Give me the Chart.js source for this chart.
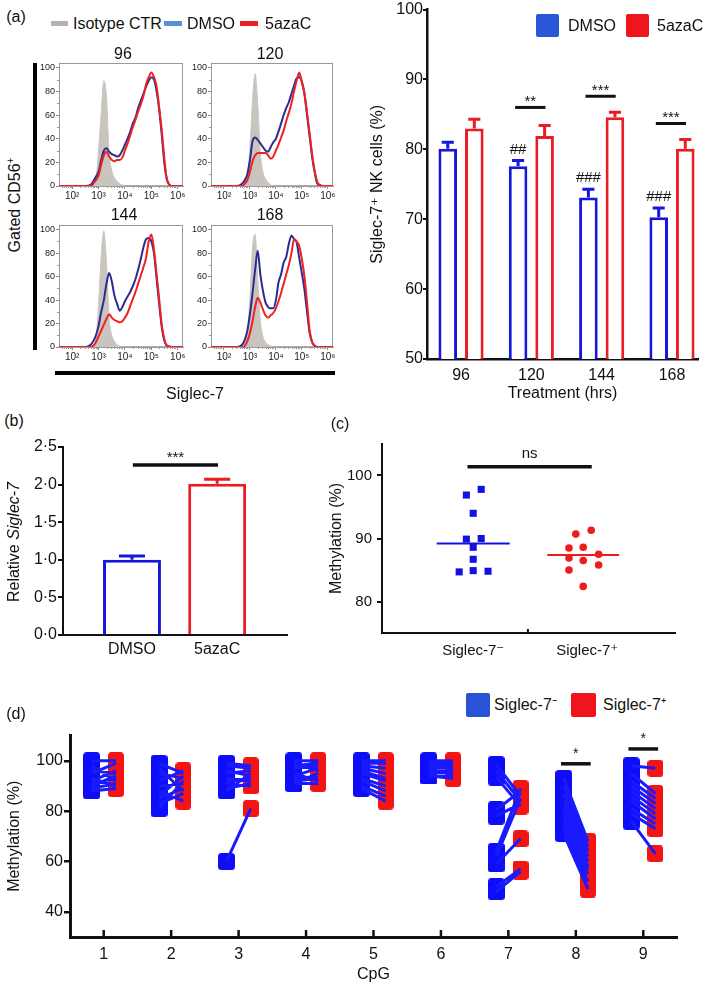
<!DOCTYPE html>
<html><head><meta charset="utf-8">
<script src="https://cdn.jsdelivr.net/npm/chart.js"></script>
<style>
html,body{margin:0;padding:0;background:#fff;}
#root{position:relative;width:709px;height:984px;overflow:hidden;font-family:'Liberation Sans',Arial,Helvetica,sans-serif;color:#111;}
canvas{position:absolute;}
.t{position:absolute;white-space:nowrap;line-height:1;}
</style></head><body><div id="root"></div>
<script>
// ---------------- DATA ----------------
// (a) flow histograms (x = log10 fluorescence)
const histLog=[1.5,2.5,2.7,2.8,2.9,3.0,3.1,3.2,3.3,3.4,3.5,3.6,3.7,3.8,3.9,4.0,4.1,4.2,4.3,4.4,4.5,4.6,4.7,4.8,4.9,5.0,5.1,5.2,5.3,5.4,5.5,5.6,5.8,6.2];
const histTickVals=[2,3,4,5,6];
const histTickLabels=['10²','10³','10⁴','10⁵','10⁶'];
const histYTicks=[0,20,40,60,80,100];
const histTitles=['96','120','144','168'];
const iso96=[0,0,0,1,6,30,62,89,75,28,13,7,4,2,1,0,0,0,0,0,0,0,0,0,0,0,0,0,0,0,0,0,0,0];
const dmso96=[0,0,1,4,8,12,22,30,32,29,27,26,25,26,30,35,40,46,53,58,66,72,78,84,89,92,90,80,64,42,18,5,0,0];
const aza96=[0,0,0,2,5,9,18,26,29,25,22,21,22,22,24,30,36,43,50,56,63,69,76,86,92,96,92,84,66,46,22,4,0,0];
const iso120=[0,0,0,2,8,32,72,95,70,28,12,6,3,1,0,0,0,0,0,0,0,0,0,0,0,0,0,0,0,0,0,0,0,0];
const dmso120=[0,0,2,5,10,22,38,41,39,36,33,30,29,33,37,40,46,53,60,66,71,78,85,91,92,88,78,60,42,24,11,2,0,0];
const aza120=[0,0,0,2,5,12,21,26,28,28,28,28,26,23,25,30,35,41,47,55,62,70,80,89,96,88,78,62,44,26,12,3,0,0];
const iso144=[0,0,0,2,8,35,78,99,72,25,10,5,2,1,0,0,0,0,0,0,0,0,0,0,0,0,0,0,0,0,0,0,0,0];
const dmso144=[0,0,2,5,10,18,30,40,54,63,56,44,37,31,34,39,43,47,52,58,66,75,85,92,93,90,80,58,36,16,5,1,0,0];
const aza144=[0,0,0,1,4,9,14,19,24,28,25,23,22,21,22,25,29,35,41,47,54,61,68,76,90,96,83,62,40,18,6,1,0,0];
const iso168=[0,0,1,4,12,42,85,96,58,22,9,4,2,1,0,0,0,0,0,0,0,0,0,0,0,0,0,0,0,0,0,0,0,0];
const dmso168=[0,0,2,6,14,28,46,66,82,62,48,38,34,33,33,40,55,62,72,77,88,95,92,89,76,63,49,30,12,4,1,0,0,0];
const aza168=[0,0,0,1,5,12,22,34,42,38,32,27,25,27,29,33,39,46,54,62,70,80,92,90,86,75,60,38,14,4,1,0,0,0];

// (a) right bar chart
const treatLabels=['96','120','144','168'];
const dmsoMean=[80.1,77.6,73.1,70.3];
const dmsoErr=[81.0,78.4,74.3,71.6];
const azaMean=[83.0,81.9,84.6,80.1];
const azaErr=[84.3,83.4,85.3,81.4];
const hashLabels=['','##','###','###'];
const sigIdxA=[1,2,3];
const sigValA=[86.0,87.6,83.7];
const sigTxtA=['**','***','***'];
const yTicksA=[50,60,70,80,90,100];

// (b)
const relLabels=['DMSO','5azaC'];
const relMean=[1.00,2.01];
const relErr=[1.05,2.07];
const relSigY=2.26;
const yTicksB=[0,0.5,1.0,1.5,2.0,2.5];

// (c)
const methLabels=['Siglec-7⁻','Siglec-7⁺'];
const negX=[0.877,1,1.13,1,1,0.94,1.07,1,0.94,1.07];
const negY=[84.7,84.9,84.8,86.7,88.6,89.9,90.0,94.0,96.9,97.8];
const posX=[1.90,2.035,1.84,1.965,2.10,1.84,1.965,2.10,1.84,1.965];
const posY=[90.7,91.3,88.5,88.6,87.5,86.9,86.5,85.8,85.0,82.4];
const negMean=89.2, posMean=87.4;
const nsSigY=101.4;
const yTicksC=[80,90,100];

// (d) paired CpG methylation
const cpgLabels=['1','2','3','4','5','6','7','8','9'];
const cpgNeg=[
 [100,98,96,95,93,92,91,90,89,88],
 [99,97,95,92,90,88,86,85,83,81],
 [99,98,96,95,93,92,91,89,88,60],
 [100,99,98,97,95,94,93,92,91,91],
 [100,99,98,97,96,95,93,92,90,89],
 [100,99,98,98,97,96,96,95,94,94],
 [98.5,96,93.5,80.5,78,64,62,59,50,48],
 [93,90,87,84,81,79,77,75,73,71],
 [98,95,92,90,88,86,84,81,79,76]];
const cpgPos=[
 [100,92,95,99,90,96,93,94,91,89],
 [95,88,93,96,91,84,94,89,87,92],
 [98,97,94,96,92,93,90,91,95,81],
 [100,96,99,98,92,97,94,93,95,91],
 [100,99,97,95,93,92,90,88,86,84],
 [100,99,99,97,98,96,95,96,94,93],
 [86,84,82,88,83,89,85,69,57,56],
 [68,66,64,62,60,58,57,55,52,49],
 [97,87,85,83,81,79,77,75,73,63]];
const cpgSigIdx=[8,9];
const cpgSigY=[98.8,104.7];
const yTicksD=[40,60,80,100];

// ---------------- SETUP ----------------
const FONT="'Liberation Sans', Arial, Helvetica, 'DejaVu Sans', sans-serif";
Chart.defaults.font.family=FONT;
Chart.defaults.color='#111';
Chart.defaults.animation=false;
Chart.defaults.plugins.legend.display=false;
Chart.defaults.plugins.tooltip.enabled=false;
const root=document.getElementById('root');
const BAR_BLUE='#1616dc', BAR_RED='#ea1d25';
const HBLUE='#2b2b92', HRED='#ee2020', HGRAY='#c9c5be';
const DOT_BLUE='#1212e0', DOT_RED='#ee1c1c';
const D_BLUE='#0d0dfa', D_RED='#f41414';

function mkCanvas(cb){const c=document.createElement('canvas');c.width=cb.w;c.height=cb.h;c.style.left=cb.x+'px';c.style.top=cb.y+'px';c.style.width=cb.w+'px';c.style.height=cb.h+'px';root.appendChild(c);return c;}
function box(x,y,w,h,bg,rad){const d=document.createElement('div');d.style.cssText=`position:absolute;left:${x}px;top:${y}px;width:${w}px;height:${h}px;background:${bg};border-radius:${rad||0}px`;root.appendChild(d);}
function txt(html,x,y,size,anchor,rot){const d=document.createElement('div');d.className='t';d.innerHTML=html;d.style.left=x+'px';d.style.top=y+'px';d.style.fontSize=size+'px';const tx=anchor==='l'?'0':'-50%';d.style.transform=`translate(${tx},-50%)`+(rot?` rotate(${rot}deg)`:'');root.appendChild(d);}
function lay(cb,a){return {padding:{left:0,top:a.t-cb.y,right:cb.x+cb.w-a.r,bottom:0},autoPadding:false};}
function setTicks(vals){return s=>{s.ticks=vals.map(v=>({value:v}));};}
function markerImg(color,w,h,r){const c=document.createElement('canvas');c.width=w;c.height=h;const g=c.getContext('2d');g.fillStyle=color;g.beginPath();g.moveTo(r,0);g.lineTo(w-r,0);g.quadraticCurveTo(w,0,w,r);g.lineTo(w,h-r);g.quadraticCurveTo(w,h,w-r,h);g.lineTo(r,h);g.quadraticCurveTo(0,h,0,h-r);g.lineTo(0,r);g.quadraticCurveTo(0,0,r,0);g.fill();return c;}
const base={responsive:false,maintainAspectRatio:false,devicePixelRatio:1,events:[],animation:false};

function errPlugin(items){return {id:'err',afterDatasetsDraw(chart){const ctx=chart.ctx,ys=chart.scales.y;items.forEach(it=>{chart.getDatasetMeta(it.ds).data.forEach((el,i)=>{const col=Array.isArray(it.color)?it.color[i]:it.color;const top=ys.getPixelForValue(it.vals[i]);const half=el.width*it.cap/2;ctx.save();ctx.strokeStyle=col;ctx.lineWidth=it.lw;ctx.beginPath();ctx.moveTo(el.x,el.y);ctx.lineTo(el.x,top);ctx.moveTo(el.x-half,top);ctx.lineTo(el.x+half,top);ctx.stroke();ctx.restore();if(it.labels&&it.labels[i]){ctx.save();ctx.fillStyle='#111';ctx.font=it.lfont;ctx.textAlign='center';ctx.textBaseline='middle';ctx.fillText(it.labels[i],el.x,top-it.ldy);ctx.restore();}});});}};}
function sigPlugin(items,o){return {id:'sig',afterDatasetsDraw(chart){const ctx=chart.ctx,xs=chart.scales.x,ys=chart.scales.y;items.forEach(it=>{const x1=xs.getPixelForValue(it.x1),x2=xs.getPixelForValue(it.x2),y=ys.getPixelForValue(it.y);ctx.save();ctx.strokeStyle='#111';ctx.lineWidth=o.lw;ctx.beginPath();ctx.moveTo(x1,y);ctx.lineTo(x2,y);ctx.stroke();ctx.fillStyle='#111';ctx.font=o.font;ctx.textAlign='center';ctx.textBaseline='alphabetic';ctx.fillText(it.text,(x1+x2)/2,y-o.dy);ctx.restore();});}};}
function innerTicks(vals,len,lw){return {id:'itk',afterDraw(chart){const ctx=chart.ctx,xs=chart.scales.x,b=chart.chartArea.bottom;ctx.save();ctx.strokeStyle='#111';ctx.lineWidth=lw;ctx.beginPath();vals.forEach(v=>{const x=xs.getPixelForValue(v);ctx.moveTo(x,b);ctx.lineTo(x,b-len);});ctx.stroke();ctx.restore();}};}
function histFrame(){return {id:'hframe',beforeDatasetsDraw(chart){const {ctx,chartArea:a,scales:{x,y}}=chart;ctx.save();ctx.strokeStyle='#9a9a9a';ctx.lineWidth=1;ctx.strokeRect(a.left+0.5,a.top+0.5,a.right-a.left-1,a.bottom-a.top-1);ctx.beginPath();for(let e=1;e<=6;e++)for(let k=2;k<=9;k++){const v=e+Math.log10(k);if(v<x.min||v>x.max)continue;const px=Math.round(x.getPixelForValue(v))+0.5;ctx.moveTo(px,a.bottom);ctx.lineTo(px,a.bottom+2);}for(let v=10;v<100;v+=20){const py=Math.round(y.getPixelForValue(v))+0.5;ctx.moveTo(a.left,py);ctx.lineTo(a.left-2,py);}ctx.stroke();ctx.restore();}};}

// ---------------- (a) histograms ----------------
function histChart(a,iso,dmso,aza){
  const cb={x:a.l-32,y:a.t-8,w:a.r-a.l+44,h:a.b-a.t+32};
  const pts=arr=>histLog.map((x,i)=>({x,y:arr[i]}));
  new Chart(mkCanvas(cb),{type:'scatter',data:{datasets:[
    {data:pts(aza),showLine:true,borderColor:HRED,borderWidth:2,pointRadius:0,cubicInterpolationMode:'monotone'},
    {data:pts(dmso),showLine:true,borderColor:HBLUE,borderWidth:2,pointRadius:0,cubicInterpolationMode:'monotone'},
    {data:pts(iso),showLine:true,borderColor:HGRAY,backgroundColor:HGRAY,fill:'origin',borderWidth:1,pointRadius:0,cubicInterpolationMode:'monotone'}
  ]},options:Object.assign({},base,{layout:lay(cb,a),scales:{
    x:{type:'linear',min:1.5,max:6.2,afterBuildTicks:setTicks(histTickVals),afterFit:s=>{s.height=cb.y+cb.h-a.b;},
       ticks:{callback:v=>histTickLabels[histTickVals.indexOf(v)],font:{size:10},padding:1,color:'#222',autoSkip:false,maxRotation:0},
       grid:{drawOnChartArea:false,drawTicks:true,tickLength:3,color:'#888',lineWidth:1},border:{color:'#9a9a9a',width:1}},
    y:{min:0,max:104,afterBuildTicks:setTicks(histYTicks),afterFit:s=>{s.width=a.l-cb.x;},
       ticks:{font:{size:9},padding:1,color:'#222',autoSkip:false},
       grid:{drawOnChartArea:false,drawTicks:true,tickLength:3,color:'#888',lineWidth:1},border:{color:'#9a9a9a',width:1}}
  }}),plugins:[histFrame()]});
}
histChart({l:59,t:63,r:183,b:186},iso96,dmso96,aza96);
histChart({l:211,t:63,r:333,b:186},iso120,dmso120,aza120);
histChart({l:59,t:225,r:183,b:347},iso144,dmso144,aza144);
histChart({l:211,t:225,r:333,b:347},iso168,dmso168,aza168);

// ---------------- (a) right bars ----------------
(function(){
  const cb={x:360,y:0,w:349,h:412}, a={l:427,t:9,r:698,b:359};
  const xy=arr=>arr.map((v,i)=>({x:i,y:v}));
  new Chart(mkCanvas(cb),{type:'bar',data:{datasets:[
    {data:xy(dmsoMean),backgroundColor:'#fff',borderColor:BAR_BLUE,borderWidth:3,categoryPercentage:0.755,barPercentage:0.7},
    {data:xy(azaMean),backgroundColor:'#fff',borderColor:BAR_RED,borderWidth:3,categoryPercentage:0.755,barPercentage:0.7}
  ]},options:Object.assign({},base,{layout:lay(cb,a),scales:{
    x:{type:'linear',offset:false,min:-0.484,max:3.37,afterBuildTicks:setTicks([0,1,2,3]),afterFit:s=>{s.height=cb.y+cb.h-a.b;},
       ticks:{callback:v=>treatLabels[v],font:{size:16},padding:7,autoSkip:false,maxRotation:0},
       grid:{display:false,drawTicks:false},border:{color:'#111',width:2.5},
       title:{display:true,text:'Treatment (hrs)',font:{size:16},padding:{top:0,bottom:9}}},
    y:{min:50,max:100,afterBuildTicks:setTicks(yTicksA),afterFit:s=>{s.width=a.l-cb.x;},
       ticks:{font:{size:16},padding:0,autoSkip:false},
       grid:{drawOnChartArea:false,drawTicks:true,tickLength:4,color:'#111',lineWidth:2},border:{color:'#111',width:2.5},
       title:{display:true,text:'Siglec-7⁺ NK cells (%)',font:{size:16},padding:{top:8.4,bottom:0}}}
  }}),plugins:[
    errPlugin([{ds:0,vals:dmsoErr,color:BAR_BLUE,lw:3,cap:0.65,labels:hashLabels,lfont:'15px '+FONT,ldy:11},
               {ds:1,vals:azaErr,color:BAR_RED,lw:3,cap:0.65}]),
    sigPlugin(sigIdxA.map((ix,k)=>({x1:ix-0.23,x2:ix+0.2,y:sigValA[k],text:sigTxtA[k]})),{lw:3,font:'15px '+FONT,dy:1.5})
  ]});
})();

// ---------------- (b) ----------------
(function(){
  const cb={x:0,y:430,w:300,h:250}, a={l:63,t:447,r:287,b:635};
  new Chart(mkCanvas(cb),{type:'bar',data:{datasets:[
    {data:relMean.map((v,i)=>({x:i+1,y:v})),backgroundColor:'#fff',borderColor:[BAR_BLUE,BAR_RED],borderWidth:3,categoryPercentage:1,barPercentage:0.68}
  ]},options:Object.assign({},base,{layout:lay(cb,a),scales:{
    x:{type:'linear',offset:false,min:0.19,max:2.82,afterBuildTicks:setTicks([1,2]),afterFit:s=>{s.height=cb.y+cb.h-a.b;},
       ticks:{callback:v=>relLabels[v-1],font:{size:16},padding:5,autoSkip:false,maxRotation:0},
       grid:{display:false,drawTicks:false},border:{color:'#111',width:2}},
    y:{min:0,max:2.5,afterBuildTicks:setTicks(yTicksB),afterFit:s=>{s.width=a.l-cb.x;},
       ticks:{callback:v=>v.toFixed(1).replace('.','·'),font:{size:16},padding:1,autoSkip:false},
       grid:{drawOnChartArea:false,drawTicks:true,tickLength:5,color:'#111',lineWidth:2},border:{color:'#111',width:2}}
  }}),plugins:[
    errPlugin([{ds:0,vals:relErr,color:[BAR_BLUE,BAR_RED],lw:3,cap:0.45}]),
    sigPlugin([{x1:1.01,x2:2.01,y:relSigY,text:'***'}],{lw:3.5,font:'15px '+FONT,dy:3.5})
  ]});
})();

// ---------------- (c) ----------------
(function(){
  const cb={x:300,y:430,w:409,h:250}, a={l:382,t:440,r:675,b:633};
  new Chart(mkCanvas(cb),{type:'scatter',data:{datasets:[
    {data:[{x:0.68,y:negMean},{x:1.32,y:negMean}],showLine:true,borderColor:DOT_BLUE,borderWidth:2,pointRadius:0},
    {data:[{x:1.65,y:posMean},{x:2.28,y:posMean}],showLine:true,borderColor:DOT_RED,borderWidth:2,pointRadius:0},
    {data:negX.map((x,i)=>({x,y:negY[i]})),pointStyle:'rect',pointRadius:5,backgroundColor:DOT_BLUE,borderWidth:0},
    {data:posX.map((x,i)=>({x,y:posY[i]})),pointStyle:'circle',pointRadius:3.8,backgroundColor:DOT_RED,borderWidth:0}
  ]},options:Object.assign({},base,{layout:lay(cb,a),scales:{
    x:{type:'linear',min:0.2,max:2.77,afterBuildTicks:setTicks([1,2]),afterFit:s=>{s.height=cb.y+cb.h-a.b;},
       ticks:{callback:v=>methLabels[v-1],font:{size:15},padding:9,autoSkip:false,maxRotation:0},
       grid:{display:false,drawTicks:false},border:{color:'#111',width:2}},
    y:{min:75,max:105,afterBuildTicks:setTicks(yTicksC),afterFit:s=>{s.width=a.l-cb.x;},
       ticks:{font:{size:15},padding:5,autoSkip:false},
       grid:{drawOnChartArea:false,drawTicks:true,tickLength:5,color:'#111',lineWidth:2},border:{color:'#111',width:2},
       title:{display:true,text:'Methylation (%)',font:{size:16},padding:{top:27.4,bottom:0}}}
  }}),plugins:[
    innerTicks([1.48],4,2),
    sigPlugin([{x1:0.95,x2:2.04,y:nsSigY,text:'ns'}],{lw:3.5,font:'15px '+FONT,dy:9})
  ]});
})();

// ---------------- (d) ----------------
(function(){
  const cb={x:0,y:725,w:709,h:259}, a={l:70,t:733,r:677,b:937};
  const OFF=0.18;
  const bluePts=[],redPts=[],linePts=[];
  cpgNeg.forEach((arr,ci)=>arr.forEach((v,j)=>{
    const n=ci+1, r=cpgPos[ci][j];
    bluePts.push({x:n-OFF,y:v}); redPts.push({x:n+OFF,y:r});
    linePts.push({x:n-OFF,y:v},{x:n+OFF,y:r},{x:n,y:null});
  }));
  const blueMk=markerImg(D_BLUE,17,17,3.5), redMk=markerImg(D_RED,16,17,3.5);
  new Chart(mkCanvas(cb),{type:'scatter',data:{datasets:[
    {data:linePts,showLine:true,spanGaps:false,borderColor:'#1a1aff',borderWidth:3,pointRadius:0},
    {data:bluePts,pointStyle:blueMk,pointRadius:9,borderWidth:0},
    {data:redPts,pointStyle:redMk,pointRadius:9,borderWidth:0}
  ]},options:Object.assign({},base,{layout:lay(cb,a),scales:{
    x:{type:'linear',min:0.5,max:9.5,afterBuildTicks:setTicks([1,2,3,4,5,6,7,8,9]),afterFit:s=>{s.height=cb.y+cb.h-a.b;},
       ticks:{callback:v=>cpgLabels[v-1],font:{size:16},padding:8,autoSkip:false,maxRotation:0},
       grid:{display:false,drawTicks:false},border:{color:'#111',width:3},
       title:{display:true,text:'CpG',font:{size:16},padding:{top:0,bottom:0}}},
    y:{min:30,max:110,afterBuildTicks:setTicks(yTicksD),afterFit:s=>{s.width=a.l-cb.x;},
       ticks:{font:{size:16},padding:1,autoSkip:false},
       grid:{drawOnChartArea:false,drawTicks:true,tickLength:6,color:'#111',lineWidth:2.5},border:{color:'#111',width:3},
       title:{display:true,text:'Methylation (%)',font:{size:16},padding:{top:5.4,bottom:0}}}
  }}),plugins:[
    innerTicks([1,2,3,4,5,6,7,8,9],7,2.5),
    sigPlugin(cpgSigIdx.map((ix,k)=>({x1:ix-0.22,x2:ix+0.22,y:cpgSigY[k],text:'*'})),{lw:3.5,font:'14px '+FONT,dy:6})
  ]});
})();

// ---------------- HTML text & decorations ----------------
txt('(a)',16,17,16);
box(51,21,17,5,'#b3b3b3'); txt('Isotype CTR',73,23.5,16,'l');
box(164,21,18,5,'#5b90d8'); txt('DMSO',187,23.5,16,'l');
box(240,21,18,5,'#ee1c25'); txt('5azaC',265,23.5,16,'l');
txt(histTitles[0],123,54,16); txt(histTitles[1],270,54,16);
txt(histTitles[2],124,215,16); txt(histTitles[3],270,215,16);
txt('Gated CD56<sup style="font-size:10px;vertical-align:6px">+</sup>',14,205,16,'c',-90);
box(33,63,3.5,287,'#000'); box(55,371,280,3.5,'#000');
txt('Siglec-7',195,394,16);
box(536,14,23,23,'#2a56d8',2); txt('DMSO',568,25.5,16,'l');
box(626,14,23,23,'#f0141c',2); txt('5azaC',657,25.5,16,'l');
txt('(b)',14,421,16);
txt('Relative <i>Siglec-7</i>',14,542,16,'c',-90);
txt('(c)',340,424,16);
txt('(d)',16,714,16);
box(466,693,24,24,'#2a52d6',2); txt('Siglec-7⁻',494,705,16,'l');
box(571,693,25,24,'#f0141c',2); txt('Siglec-7⁺',603,705,16,'l');
</script></body></html>
